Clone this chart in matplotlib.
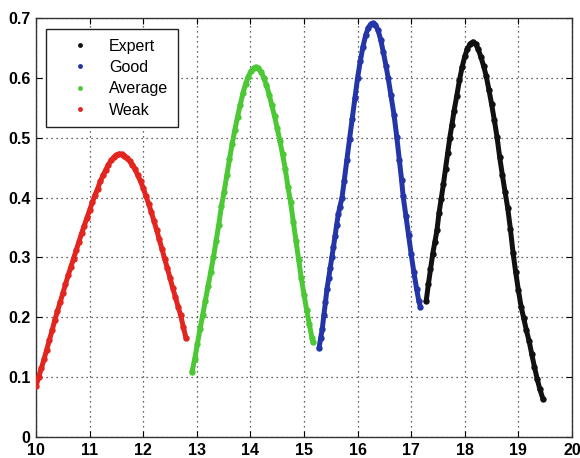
import matplotlib
matplotlib.use("Agg")
import matplotlib.pyplot as plt
from matplotlib.lines import Line2D

plt.rcParams['font.family'] = ['Liberation Sans', 'DejaVu Sans']

# Weak (red)
weak_x = [10.00, 10.05, 10.10, 10.15, 10.20, 10.25, 10.30, 10.35, 10.40, 10.45,
          10.50, 10.55, 10.60, 10.65, 10.70, 10.75, 10.80, 10.85, 10.90, 10.95,
          11.00, 11.05, 11.10, 11.15, 11.20, 11.25, 11.30, 11.35, 11.40, 11.45,
          11.50, 11.55, 11.60, 11.65, 11.70, 11.75, 11.80, 11.85, 11.90, 11.95,
          12.00, 12.05, 12.10, 12.15, 12.20, 12.25, 12.30, 12.35, 12.40, 12.45,
          12.50, 12.55, 12.60, 12.65, 12.70, 12.75, 12.80]
weak_y = [0.085, 0.100, 0.115, 0.130, 0.146, 0.162, 0.178, 0.195, 0.210, 0.225,
          0.240, 0.255, 0.270, 0.284, 0.298, 0.312, 0.326, 0.340, 0.353, 0.366,
          0.379, 0.392, 0.404, 0.415, 0.427, 0.437, 0.446, 0.455, 0.462, 0.467,
          0.471, 0.473, 0.472, 0.470, 0.466, 0.461, 0.455, 0.447, 0.437, 0.427,
          0.416, 0.403, 0.390, 0.376, 0.361, 0.346, 0.330, 0.314, 0.298, 0.282,
          0.266, 0.249, 0.234, 0.218, 0.203, 0.183, 0.165]

# Average (green)
avg_x = [12.91, 12.96, 13.01, 13.06, 13.11, 13.16, 13.21, 13.26, 13.31, 13.36,
         13.41, 13.46, 13.51, 13.56, 13.61, 13.66, 13.71, 13.76, 13.81, 13.86,
         13.91, 13.96, 14.01, 14.06, 14.10, 14.15, 14.20, 14.25, 14.30, 14.35,
         14.40, 14.45, 14.50, 14.55, 14.60, 14.65, 14.70, 14.75, 14.80, 14.85,
         14.90, 14.95, 15.00, 15.05, 15.10, 15.15, 15.17]
avg_y = [0.108, 0.130, 0.155, 0.180, 0.204, 0.228, 0.252, 0.276, 0.300, 0.327,
         0.355, 0.386, 0.410, 0.437, 0.464, 0.490, 0.513, 0.535, 0.555, 0.574,
         0.590, 0.602, 0.611, 0.616, 0.618, 0.616, 0.610, 0.600, 0.588, 0.572,
         0.554, 0.536, 0.516, 0.495, 0.472, 0.448, 0.418, 0.392, 0.360, 0.328,
         0.296, 0.265, 0.238, 0.212, 0.188, 0.165, 0.158]

# Good (blue)
good_x = [15.28, 15.31, 15.34, 15.37, 15.40, 15.43, 15.46, 15.49, 15.52, 15.55,
          15.58, 15.61, 15.64, 15.67, 15.71, 15.75, 15.80, 15.85, 15.90, 15.95,
          16.00, 16.05, 16.10, 16.15, 16.20, 16.25, 16.29, 16.33, 16.38, 16.43,
          16.48, 16.53, 16.57, 16.62, 16.68, 16.73, 16.78, 16.82, 16.85, 16.90,
          16.95, 17.00, 17.05, 17.10, 17.14, 17.17]
good_y = [0.148, 0.165, 0.180, 0.203, 0.225, 0.248, 0.265, 0.283, 0.300, 0.318,
          0.336, 0.355, 0.372, 0.385, 0.400, 0.428, 0.463, 0.498, 0.532, 0.566,
          0.600, 0.628, 0.652, 0.671, 0.684, 0.690, 0.691, 0.689, 0.680, 0.664,
          0.643, 0.620, 0.600, 0.572, 0.538, 0.502, 0.462, 0.430, 0.402, 0.370,
          0.338, 0.305, 0.275, 0.248, 0.228, 0.218]

# Expert (black)
expert_x = [17.28, 17.32, 17.36, 17.40, 17.44, 17.48, 17.52, 17.56, 17.60, 17.64,
            17.68, 17.72, 17.76, 17.80, 17.85, 17.90, 17.95, 18.00, 18.05, 18.10,
            18.15, 18.20, 18.25, 18.30, 18.35, 18.40, 18.45, 18.50, 18.55, 18.60,
            18.65, 18.70, 18.75, 18.80, 18.85, 18.90, 18.95, 19.00, 19.05, 19.10,
            19.15, 19.20, 19.25, 19.30, 19.35, 19.40, 19.46]
expert_y = [0.227, 0.255, 0.280, 0.305, 0.325, 0.345, 0.375, 0.398, 0.422, 0.448,
            0.474, 0.500, 0.522, 0.545, 0.570, 0.596, 0.618, 0.636, 0.649, 0.657,
            0.660, 0.657, 0.648, 0.635, 0.620, 0.603, 0.580, 0.556, 0.530, 0.502,
            0.468, 0.438, 0.410, 0.383, 0.348, 0.308, 0.275, 0.245, 0.218, 0.198,
            0.178, 0.160, 0.138, 0.117, 0.097, 0.080, 0.063]

labels = ['Expert', 'Good', 'Average', 'Weak']
colors = ['#111111', '#2435a8', '#4cc835', '#e2251f']
series = [(expert_x, expert_y), (good_x, good_y), (avg_x, avg_y), (weak_x, weak_y)]

x_ticks = list(range(10, 21))
y_ticks = [0, 0.1, 0.2, 0.3, 0.4, 0.5, 0.6, 0.7]
y_ticklabels = ['0', '0.1', '0.2', '0.3', '0.4', '0.5', '0.6', '0.7']

fig = plt.figure(figsize=(5.8, 4.58), dpi=100)
ax = fig.add_axes([36 / 580, 21 / 458, 536 / 580, 419 / 458])

for (xs, ys), c in zip(series, colors):
    ax.plot(xs, ys, '-', color=c, lw=3.6, solid_capstyle='round', zorder=3)
    ax.plot(xs, ys, 'o', color=c, ms=4.6, mew=0, zorder=4)

ax.set_xlim(10, 20)
ax.set_ylim(0, 0.7)
ax.set_xticks(x_ticks)
ax.set_yticks(y_ticks)
ax.set_yticklabels(y_ticklabels)
ax.grid(True, linestyle=(0, (1, 3)), color='#333333', lw=0.9)
ax.tick_params(direction='in', length=4, top=True, right=True, labelsize=11.5)
ax.tick_params(axis='x', pad=4.5)
ax.tick_params(axis='y', pad=4)
for lab in ax.get_xticklabels() + ax.get_yticklabels():
    lab.set_fontweight('bold')
for sp in ax.spines.values():
    sp.set_color('#333333')
    sp.set_linewidth(1.0)

handles = [Line2D([], [], ls='none', marker='o', ms=3.5, mew=0, color=c)
           for c in colors]
leg = ax.legend(handles, labels, loc='upper left',
                bbox_to_anchor=(10 / 536, 1 - 11 / 419), borderaxespad=0,
                fancybox=False, framealpha=1, edgecolor='#222222',
                fontsize=11.5, handlelength=3.0, handletextpad=0.35,
                labelspacing=0.4, borderpad=0.6)
leg.get_frame().set_linewidth(1.0)

fig.savefig("out.png", dpi=100)
